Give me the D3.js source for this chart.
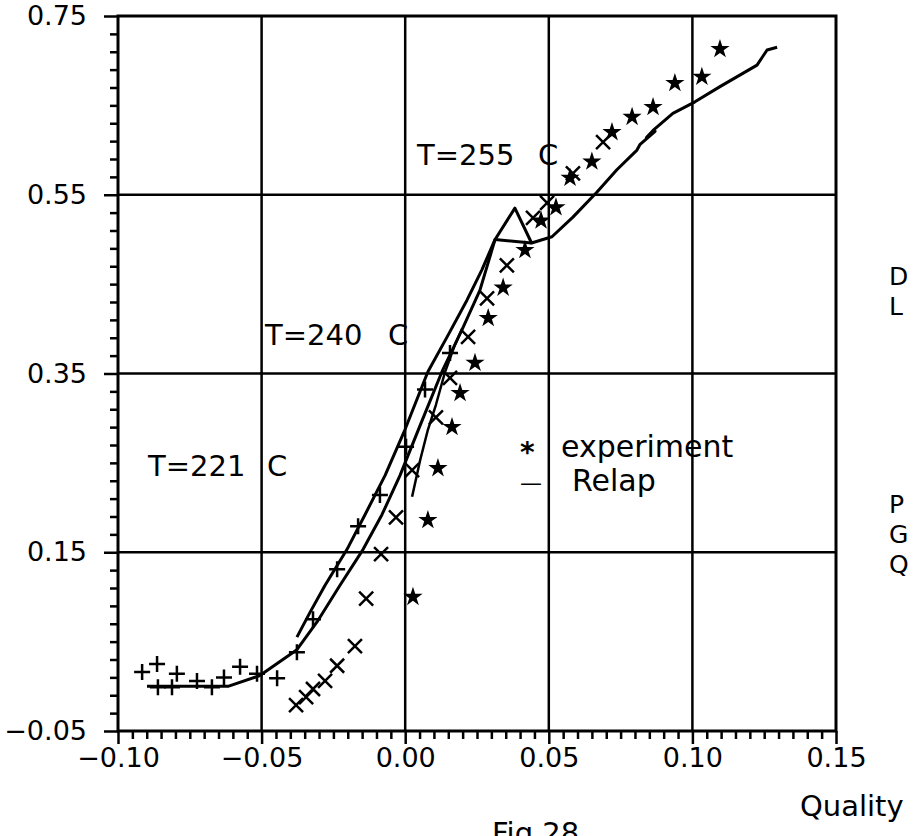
<!DOCTYPE html>
<html>
<head>
<meta charset="utf-8">
<script src="https://cdn.jsdelivr.net/npm/d3@7"></script>
<style>
  html, body { margin: 0; padding: 0; background: #fff; }
  svg { display: block; }
  text { font-family: "DejaVu Sans", sans-serif; fill: #000; }
</style>
</head>
<body>
<script>
// ---- data ----
const xTicks = [-0.10, -0.05, 0.00, 0.05, 0.10, 0.15];
const yTicks = [-0.05, 0.15, 0.35, 0.55, 0.75];
const xGridValues = [-0.05, 0.00, 0.05, 0.10];
const yGridValues = [0.15, 0.35, 0.55];

// experiment, T=221 C  (+)
const plusPts = [[-0.0916,0.016],[-0.0864,0.025],[-0.0861,-0.001],[-0.0812,-0.001],[-0.0795,0.014],
  [-0.0725,0.006],[-0.0673,-0.001],[-0.0631,0.010],[-0.0575,0.022],[-0.0516,0.014],[-0.0446,0.009],
  [-0.0377,0.038],[-0.0321,0.075],[-0.0237,0.131],[-0.0164,0.179],[-0.0088,0.214],[0.0003,0.268],
  [0.0069,0.332],[0.0156,0.373]];
// experiment, T=240 C  (x)
const crossPts = [[-0.0380,-0.021],[-0.0345,-0.012],[-0.0321,-0.003],[-0.0279,0.006],[-0.0237,0.023],
  [-0.0175,0.045],[-0.0136,0.098],[-0.0084,0.148],[-0.0032,0.189],[0.0024,0.242],[0.0107,0.301],
  [0.0156,0.345],[0.0219,0.391],[0.0285,0.434],[0.0354,0.471],[0.0445,0.524],[0.0494,0.541],
  [0.0584,0.574],[0.0689,0.609]];
// experiment, T=255 C  (stars)
const starPts = [[0.0027,0.100],[0.0079,0.186],[0.0114,0.244],[0.0163,0.290],[0.0191,0.328],
  [0.0243,0.362],[0.0289,0.412],[0.0341,0.446],[0.0417,0.488],[0.0473,0.521],[0.0525,0.536],
  [0.0574,0.569],[0.0650,0.587],[0.0720,0.620],[0.0790,0.637],[0.0863,0.648],[0.0939,0.675],
  [0.1033,0.682],[0.1096,0.713]];

// Relap curves
const relapA = [[-0.0899,0.000],[-0.0617,0.000],[-0.0506,0.012],[-0.0377,0.041],[-0.0307,0.072],
  [-0.0227,0.113],[-0.0147,0.153],[-0.0081,0.192],[-0.0018,0.236],[0.0052,0.292],[0.0128,0.352],
  [0.0198,0.399],[0.0260,0.443],[0.0313,0.500],[0.0440,0.496]];
const relapB = [[-0.0377,0.055],[-0.0331,0.083],[-0.0279,0.113],[-0.0203,0.153],[-0.0140,0.192],
  [-0.0070,0.236],[-0.0001,0.287],[0.0079,0.352],[0.0146,0.391],[0.0215,0.432],[0.0267,0.466],
  [0.0313,0.500],[0.0382,0.535],[0.0440,0.496],[0.0511,0.503],[0.0584,0.525],[0.0668,0.553],
  [0.0737,0.578],[0.0807,0.600],[0.0817,0.606],[0.0870,0.621],[0.0840,0.614],[0.0863,0.622],
  [0.0932,0.641],[0.1009,0.654],[0.1096,0.671],[0.1225,0.695],[0.1260,0.712],[0.1295,0.715]];
const relapC = [[0.0024,0.212],[0.0052,0.253],[0.0079,0.287],[0.0107,0.315],[0.0139,0.352],
  [0.0173,0.382],[0.0198,0.400]];

const tempLabels = ["T=255", "T=240", "T=221"];
const legendLabels = ["experiment", "Relap"];

// ---- drawing ----
const W = 916, H = 836;
const svg = d3.select("body").append("svg").attr("width", W).attr("height", H);

const x = d3.scaleLinear().domain([-0.10, 0.15]).range([118, 836]);
const y = d3.scaleLinear().domain([-0.05, 0.75]).range([731, 16]);
const fmt = v => d3.format(".2f")(v).replace("-", "\u2212");

// minor ticks
const xMinor = d3.range(-0.10, 0.1501, 0.005).filter(v => !xTicks.some(t => Math.abs(t - v) < 1e-6));
const yMinor = d3.range(-0.05, 0.7501, 0.02).filter(v => !yTicks.some(t => Math.abs(t - v) < 1e-6));

const gx = svg.append("g").attr("transform", `translate(0,${y(-0.05)})`);
gx.call(d3.axisBottom(x).tickValues(xMinor).tickSize(8).tickFormat(""));
gx.call(g => g.select(".domain").remove());
const gx2 = svg.append("g").attr("transform", `translate(0,${y(-0.05)})`);
gx2.call(d3.axisBottom(x).tickValues(xTicks).tickSize(13).tickPadding(4).tickFormat(fmt));
gx2.call(g => g.select(".domain").remove());

const gy = svg.append("g").attr("transform", `translate(${x(-0.10)},0)`);
gy.call(d3.axisLeft(y).tickValues(yMinor).tickSize(8).tickFormat(""));
gy.call(g => g.select(".domain").remove());
const gy2 = svg.append("g").attr("transform", `translate(${x(-0.10)},0)`);
gy2.call(d3.axisLeft(y).tickValues(yTicks).tickSize(14).tickPadding(17).tickFormat(fmt));
gy2.call(g => g.select(".domain").remove());

svg.selectAll(".tick line").attr("stroke", "#000").attr("stroke-width", 2.5);
svg.selectAll(".tick text").attr("font-size", 27).attr("font-family", "DejaVu Sans").attr("fill", "#000");

// grid
svg.append("g").selectAll("line").data(xGridValues).join("line")
  .attr("x1", d => x(d)).attr("x2", d => x(d)).attr("y1", y(0.75)).attr("y2", y(-0.05))
  .attr("stroke", "#000").attr("stroke-width", 2.5);
svg.append("g").selectAll("line").data(yGridValues).join("line")
  .attr("y1", d => y(d)).attr("y2", d => y(d)).attr("x1", x(-0.10)).attr("x2", x(0.15))
  .attr("stroke", "#000").attr("stroke-width", 2.5);

// frame
svg.append("rect").attr("x", x(-0.10)).attr("y", y(0.75))
  .attr("width", x(0.15) - x(-0.10)).attr("height", y(-0.05) - y(0.75))
  .attr("fill", "none").attr("stroke", "#000").attr("stroke-width", 3);

// Relap lines
const line = d3.line().x(d => x(d[0])).y(d => y(d[1]));
[relapA, relapB, relapC].forEach((s, i) => {
  svg.append("path").datum(s).attr("d", line)
    .attr("fill", "none").attr("stroke", "#000")
    .attr("stroke-width", i === 2 ? 2.5 : 3).attr("stroke-linejoin", "round");
});

// markers
const m = 8;
svg.append("g").selectAll("path").data(plusPts).join("path")
  .attr("d", d => `M${x(d[0]) - m},${y(d[1])}H${x(d[0]) + m}M${x(d[0])},${y(d[1]) - m}V${y(d[1]) + m}`)
  .attr("stroke", "#000").attr("stroke-width", 2.5).attr("fill", "none");
svg.append("g").selectAll("path").data(crossPts).join("path")
  .attr("d", d => {
    const cx = x(d[0]), cy = y(d[1]), k = 7;
    return `M${cx - k},${cy - k}L${cx + k},${cy + k}M${cx - k},${cy + k}L${cx + k},${cy - k}`;
  })
  .attr("stroke", "#000").attr("stroke-width", 2.5).attr("fill", "none");
svg.append("g").selectAll("path").data(starPts).join("path")
  .attr("d", d3.symbol().type(d3.symbolStar).size(115))
  .attr("transform", d => `translate(${x(d[0])},${y(d[1])})`)
  .attr("fill", "#000");

// temperature labels
const tpos = [[417, 165, 538], [265, 345, 388], [148, 476, 267]];
tempLabels.forEach((t, i) => {
  svg.append("text").attr("x", tpos[i][0]).attr("y", tpos[i][1]).attr("font-size", 29).text(t);
  svg.append("text").attr("x", tpos[i][2]).attr("y", tpos[i][1]).attr("font-size", 29).text("C");
});

// legend
svg.append("text").attr("x", 520).attr("y", 462).attr("font-size", 28).attr("font-weight", "bold").text("*");
svg.append("text").attr("x", 561).attr("y", 457).attr("font-size", 30).text(legendLabels[0]);
svg.append("text").attr("x", 520).attr("y", 490).attr("font-size", 22).text("\u2014");
svg.append("text").attr("x", 572).attr("y", 491).attr("font-size", 30).text(legendLabels[1]);

// right side letters
[["D", 285], ["L", 315], ["P", 513], ["G", 543], ["Q", 573]].forEach(([c, yy]) => {
  svg.append("text").attr("x", 889).attr("y", yy).attr("font-size", 25).text(c);
});

// axis title and caption
svg.append("text").attr("x", 800).attr("y", 816).attr("font-size", 29).text("Quality");
svg.append("text").attr("x", 492).attr("y", 843).attr("font-size", 29).text("Fig.28");
</script>
</body>
</html>
